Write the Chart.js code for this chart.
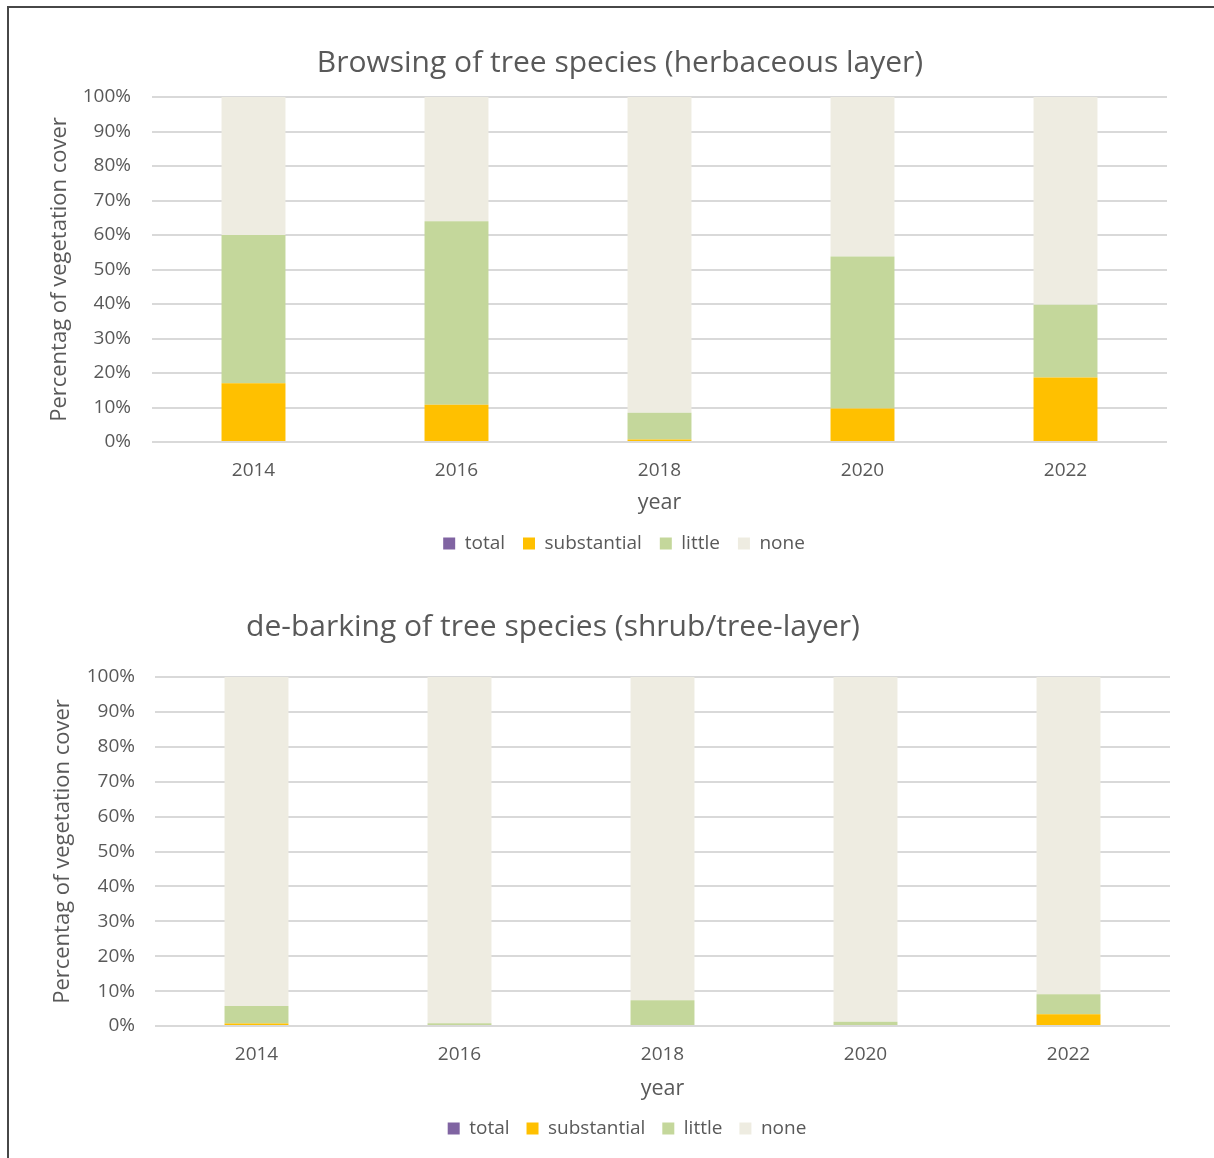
<!DOCTYPE html>
<html>
<head>
<meta charset="utf-8">
<script src="https://cdn.jsdelivr.net/npm/chart.js@4.4.1/dist/chart.umd.min.js"></script>
<style>
  html, body { margin: 0; padding: 0; background: #ffffff; }
  #page { position: relative; width: 1214px; height: 1158px; overflow: hidden; background: #ffffff; }
  #frame { position: absolute; left: 7px; top: 6px; width: 1220px; height: 1200px;
           border-top: 2px solid #474747; border-left: 2px solid #474747; box-sizing: border-box; }
  canvas { position: absolute; left: 0; }
  #c1 { top: 0; }
  #c2 { top: 575px; }
</style>
</head>
<body>
<div id="page">
  <div id="frame"></div>
  <canvas id="c1" width="1214" height="580"></canvas>
  <canvas id="c2" width="1214" height="583"></canvas>
</div>
<script>
// Survey years
const years = ['2014', '2016', '2018', '2020', '2022'];
const seriesNames = ['total', 'substantial', 'little', 'none'];

// Browsing of tree species, herbaceous layer (% of vegetation cover)
const browsingTotal       = [0, 0, 0, 0, 0];
const browsingSubstantial = [17.0, 10.8, 0.7, 9.7, 18.7];
const browsingLittle      = [43.0, 53.2, 7.8, 44.1, 21.1];
const browsingNone        = [40.0, 36.0, 91.5, 46.2, 60.2];

// De-barking of tree species, shrub/tree layer (% of vegetation cover)
const debarkTotal       = [0, 0, 0, 0, 0];
const debarkSubstantial = [0.7, 0, 0, 0, 3.4];
const debarkLittle      = [5.0, 0.8, 7.4, 1.2, 5.7];
const debarkNone        = [94.3, 99.2, 92.6, 98.8, 90.9];

// Y-axis ticks every 10 %
const yTicks = [0, 10, 20, 30, 40, 50, 60, 70, 80, 90, 100];

const colors = ['#8064a2', '#ffc000', '#c4d79b', '#eeece1'];
const FONT = '"Open Sans", Lato, sans-serif';
const GREY = '#595959';

// Moves the title and legend blocks sideways after layout (they are not centred on the plot)
const blockShift = {
  id: 'blockShift',
  afterLayout(chart, args, opts) {
    if (chart.titleBlock) { chart.titleBlock.left += opts.title; chart.titleBlock.right += opts.title; }
    if (chart.legend) { chart.legend.left += opts.legend; chart.legend.right += opts.legend; }
  }
};

function makeChart(canvasId, titleText, seriesValues, lay) {
  const datasets = seriesNames.map((name, i) => ({
    label: name,
    data: seriesValues[i],
    backgroundColor: colors[i],
    borderWidth: 0,
    categoryPercentage: 1.0,
    barPercentage: 0.315
  }));
  return new Chart(document.getElementById(canvasId), {
    type: 'bar',
    data: { labels: years, datasets },
    plugins: [blockShift],
    options: {
      responsive: false,
      animation: false,
      devicePixelRatio: 1,
      layout: { padding: { top: lay.top, left: lay.left, right: lay.right, bottom: lay.bottom } },
      plugins: {
        blockShift: { title: lay.titleShift, legend: lay.legendShift },
        title: {
          display: true,
          text: titleText,
          color: GREY,
          font: { family: FONT, size: 30, weight: 'normal' },
          padding: { top: 0, bottom: lay.titleGap }
        },
        legend: {
          position: 'bottom',
          labels: {
            color: GREY,
            font: { family: FONT, size: 19 },
            boxWidth: 12,
            boxHeight: 12,
            padding: lay.legendPad
          }
        },
        tooltip: { enabled: false }
      },
      scales: {
        x: {
          stacked: true,
          grid: { display: false, drawTicks: false },
          border: { display: false },
          ticks: { color: GREY, font: { family: FONT, size: 19 }, padding: lay.xTickPad },
          title: { display: true, text: 'year', color: GREY, font: { family: FONT, size: 21.5 }, padding: 0 },
          afterFit: (s) => { s.height = lay.xHeight; }
        },
        y: {
          stacked: true,
          min: 0,
          max: 100,
          afterBuildTicks: (s) => { s.ticks = yTicks.map(v => ({ value: v })); },
          grid: { color: '#d9d9d9', lineWidth: 2, drawTicks: false },
          border: { display: false },
          ticks: {
            color: GREY,
            font: { family: FONT, size: 19 },
            padding: lay.yTickPad,
            callback: (v) => v + '%'
          },
          title: { display: true, text: 'Percentag of vegetation cover', color: GREY,
                   font: { family: FONT, size: 22 }, padding: 0 },
          afterFit: (s) => { s.width = lay.yWidth; }
        }
      }
    }
  });
}

makeChart('c1', 'Browsing of tree species (herbaceous layer)',
  [browsingTotal, browsingSubstantial, browsingLittle, browsingNone],
  { top: 45, left: 47, right: 47, bottom: 17, titleGap: 16, xHeight: 74, xTickPad: 17.6,
    yWidth: 105, yTickPad: 21, legendPad: 18, titleShift: 13, legendShift: 17 });

makeChart('c2', 'de-barking of tree species (shrub/tree-layer)',
  [debarkTotal, debarkSubstantial, debarkLittle, debarkNone],
  { top: 34, left: 50, right: 44, bottom: 10, titleGap: 32, xHeight: 76, xTickPad: 17.6,
    yWidth: 105, yTickPad: 20, legendPad: 17, titleShift: -57, legendShift: 17 });
</script>
</body>
</html>
